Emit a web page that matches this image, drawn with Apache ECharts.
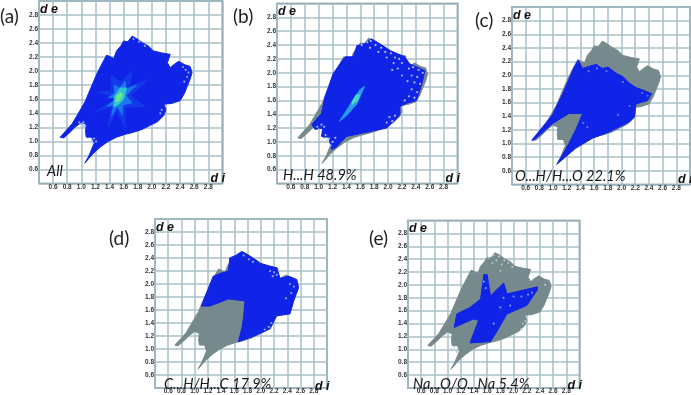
<!DOCTYPE html>
<html><head><meta charset="utf-8">
<style>html,body{margin:0;padding:0;background:#fff}#c{width:691px;height:395px;filter:blur(0.5px)}</style>
<script src="https://cdn.jsdelivr.net/npm/echarts@6/dist/echarts.min.js"></script>
</head><body><div id="c"></div>
<script>
const panelLetters = ['(a)','(b)','(c)','(d)','(e)'];
const captions = ['All','H...H 48.9%','O...H/H...O 22.1%','C...H/H...C 17.9%','Na...O/O...Na 5.4%'];
const fullOutline = [[1.05,0.69],[1.16,0.82],[1.27,0.92],[1.38,1.0],[1.5,1.06],[1.62,1.1],[1.74,1.13],[1.86,1.17],[1.98,1.23],[2.08,1.28],[2.17,1.37],[2.2,1.45],[2.17,1.53],[2.28,1.54],[2.4,1.58],[2.46,1.68],[2.5,1.78],[2.54,1.88],[2.57,1.98],[2.54,2.07],[2.47,2.09],[2.38,2.14],[2.32,2.1],[2.26,2.05],[2.22,2.12],[2.26,2.24],[2.14,2.26],[2.02,2.29],[1.95,2.36],[1.86,2.41],[1.79,2.46],[1.72,2.5],[1.66,2.42],[1.6,2.43],[1.56,2.36],[1.5,2.29],[1.46,2.18],[1.42,2.2],[1.36,2.23],[1.29,2.1],[1.22,1.96],[1.16,1.82],[1.1,1.68],[1.06,1.58],[1.01,1.49],[0.94,1.37],[0.87,1.25],[0.78,1.15],[0.7,1.06],[0.75,1.05],[0.84,1.13],[0.92,1.21],[1.0,1.27],[1.07,1.24],[1.06,1.14],[1.07,1.06],[1.15,1.06],[1.18,0.97],[1.11,0.8]];
const blueB = [[1.76,2.49],[1.66,2.42],[1.55,2.39],[1.5,2.23],[1.38,2.23],[1.21,1.99],[1.09,1.65],[1.04,1.41],[0.9,1.25],[0.95,1.18],[1.06,1.2],[1.04,1.08],[1.14,1.08],[1.19,0.89],[1.26,0.93],[1.4,1.08],[1.64,1.13],[1.98,1.2],[2.17,1.39],[2.17,1.51],[2.27,1.56],[2.41,1.6],[2.49,1.85],[2.53,2.03],[2.31,2.13],[2.24,2.23],[2.03,2.32],[1.88,2.42]];
const blueC = [[0.69,1.05],[0.99,1.42],[1.14,1.73],[1.31,2.12],[1.37,2.22],[1.43,2.1],[1.52,2.13],[1.63,2.16],[1.72,2.1],[1.8,2.12],[1.92,2.03],[2.02,1.98],[2.12,1.88],[2.21,1.82],[2.32,1.78],[2.44,1.73],[2.38,1.63],[2.21,1.58],[2.19,1.39],[2.12,1.32],[1.82,1.17],[1.58,1.08],[1.33,0.93],[1.06,0.7],[1.23,1.0],[1.34,1.22],[1.43,1.44],[1.23,1.44],[0.99,1.29],[0.72,1.05]];
const blueD = [[1.1,1.66],[1.28,2.12],[1.38,2.16],[1.51,2.2],[1.53,2.4],[1.62,2.44],[1.71,2.5],[1.82,2.44],[1.99,2.32],[2.12,2.28],[2.24,2.25],[2.29,2.09],[2.42,2.12],[2.54,2.07],[2.57,1.94],[2.5,1.75],[2.44,1.54],[2.24,1.51],[2.14,1.31],[1.9,1.2],[1.66,1.11],[1.72,1.35],[1.74,1.51],[1.76,1.74],[1.51,1.77],[1.23,1.66]];
const blueE = [[1.1,1.34],[1.14,1.55],[1.34,1.65],[1.5,1.78],[1.55,2.16],[1.6,2.16],[1.65,1.83],[1.85,2.03],[1.9,1.86],[2.36,1.97],[2.36,1.92],[2.2,1.68],[1.9,1.55],[1.75,1.28],[1.65,1.12],[1.34,1.1],[1.47,1.45],[1.39,1.47]];
const softA = [[1.53,1.63],[1.2,1.42],[1.43,1.5],[1.38,1.2],[1.5,1.44],[1.62,1.2],[1.62,1.48],[1.9,1.5],[1.7,1.65],[1.95,1.88],[1.68,1.78],[1.72,2.0],[1.56,1.84],[1.42,1.95],[1.43,1.72],[1.22,1.7]];
const hotOuterA = [[1.53,1.63],[1.36,1.5],[1.46,1.52],[1.43,1.36],[1.51,1.5],[1.58,1.38],[1.59,1.52],[1.72,1.55],[1.63,1.65],[1.78,1.8],[1.63,1.74],[1.62,1.86],[1.55,1.76],[1.47,1.8],[1.47,1.68],[1.38,1.62]];
const hotMidA = [[1.46,1.49],[1.52,1.52],[1.6,1.6],[1.64,1.76],[1.55,1.76],[1.47,1.64]];
const hotCoreA = [[1.49,1.56],[1.54,1.58],[1.59,1.66],[1.56,1.7],[1.5,1.65]];
const hotMidB = [[1.3,1.3],[1.4,1.38],[1.55,1.55],[1.66,1.8],[1.6,1.76],[1.46,1.55],[1.34,1.36]];
const hotCoreB = [[1.48,1.54],[1.56,1.6],[1.59,1.68],[1.54,1.68],[1.48,1.58]];
const speckA = [[2.48,2.02],[2.52,1.98],[2.44,2.06],[2.5,1.92],[2.46,1.85],[1.74,2.46],[1.82,2.42],[1.9,2.36],[1.0,1.24],[0.97,1.27],[1.03,1.27],[1.04,1.22],[1.15,1.02],[1.18,1.04],[1.21,1.0],[1.17,0.98],[2.12,1.4],[2.14,1.45]];
const speckB = [[1.62,2.4],[1.7,2.44],[1.75,2.46],[1.82,2.4],[1.9,2.36],[1.96,2.3],[2.04,2.28],[2.1,2.22],[2.16,2.2],[2.2,2.14],[1.74,2.36],[1.86,2.3],[1.98,2.22],[2.08,2.14],[2.14,2.06],[2.06,2.04],[2.2,1.96],[2.3,2.06],[2.36,2.08],[2.44,2.04],[2.5,2.0],[2.42,1.94],[2.34,1.96],[2.28,1.88],[2.38,1.86],[2.46,1.84],[2.34,1.76],[2.42,1.72],[2.3,1.66],[2.38,1.64],[2.24,1.6],[1.98,1.28],[2.06,1.3],[2.1,1.38],[2.02,1.36],[1.1,1.1],[1.15,1.05],[1.2,1.0],[1.12,1.02],[1.17,0.95],[1.24,1.06],[0.98,1.22],[1.04,1.25],[1.08,1.22],[1.0,1.18]];
const speckC = [[1.52,2.06],[1.64,2.1],[1.78,2.06],[2.02,1.9],[2.3,1.74],[2.38,1.7],[1.44,1.3],[1.5,1.24],[1.95,1.42],[2.12,1.55]];
const speckD = [[2.14,2.2],[2.2,2.18],[2.18,2.12],[2.24,2.14],[1.74,2.44],[1.82,2.38],[1.88,2.34],[2.44,2.0],[2.5,1.96],[2.46,1.86],[2.38,1.78],[2.16,1.4],[2.12,1.34],[2.06,1.3]];
const speckE = [[1.62,2.42],[1.7,2.46],[1.78,2.44],[1.86,2.38],[1.92,2.34],[1.98,2.28],[1.74,2.38],[1.82,2.32],[1.68,2.34],[1.06,1.0],[1.14,0.96],[1.1,1.04],[2.12,1.32],[2.18,1.44],[2.14,1.4],[1.8,2.22],[2.48,2.0]];
const speckE2 = [[1.55,2.05],[1.58,1.95],[1.85,1.8],[2.0,1.82],[2.12,1.82],[2.22,1.85],[2.28,1.88],[1.8,1.65],[1.95,1.68],[1.7,1.4]];
const panels = [
  {left:39, top:1, size:183.4, h:182.5},
  {left:277,top:3.5,size:180.5,h:180},
  {left:512,top:7, size:178,h:177.5},
  {left:155,top:219,size:172,h:172},
  {left:408,top:220.5,size:171.5,h:170}
];
const letterPos = [[0,7],[233,7],[475,11],[109,229],[369,229]];
const capPos = [[47,164],[283,168],[515,169],[164,377],[413,377]];
const blue='#0f24e6', gray='#76898c';
const layers = [
  [[fullOutline,blue],[softA,'#1438ea'],[hotOuterA,'#1b78f0'],[hotMidA,'#2ec4d4'],[hotCoreA,'#66e88e']],
  [[fullOutline,gray],[blueB,blue],[hotMidB,'#2a9cee'],[hotCoreB,'#45dcc0']],
  [[fullOutline,gray],[blueC,blue]],
  [[fullOutline,gray],[blueD,blue]],
  [[fullOutline,gray],[blueE,blue]]
];
const dots = [[[speckA,'#9fb0f2']],[[speckB,'#c4ccf5']],[[speckC,'#6f80ee']],[[speckD,'#a4aff0']],[[speckE,'#bcc8c8'],[speckE2,'#8f9cf0']]];
const grids=[],xAxes=[],yAxes=[],series=[],titles=[];
const labelFont={fontSize:6.5,fontWeight:'bold',color:'#333',fontFamily:'Liberation Sans',showMinLabel:false,showMaxLabel:false};
panels.forEach((p,i)=>{
  grids.push({left:p.left,top:p.top,width:p.size,height:p.h,show:true,borderColor:'#5c7a80',borderWidth:1.5,backgroundColor:'#fff'});
  const ax=(m)=>({type:'value',min:0.4,max:3.0,interval:0.2,gridIndex:i,
    axisLine:{show:false},axisTick:{show:false},
    axisLabel:Object.assign({},labelFont,{margin:m,formatter:v=>v.toFixed(1)}),
    splitLine:{show:true,lineStyle:{color:'#a9c1c9',width:1.5}}});
  xAxes.push(ax(0)); yAxes.push(ax(1));
  layers[i].forEach(([pts,col])=>{
    series.push({type:'custom',xAxisIndex:i,yAxisIndex:i,coordinateSystem:'cartesian2d',silent:true,clip:false,
      data:pts,encode:{x:0,y:1},
      renderItem:(params,api)=>{
        if(params.dataIndex!==0) return null;
        return {type:'polygon',shape:{points:pts.map(q=>api.coord(q))},style:{fill:col,stroke:col,lineWidth:1}};
      }});
  });
  dots[i].forEach(([pts,col])=>{
    series.push({type:'scatter',xAxisIndex:i,yAxisIndex:i,silent:true,data:pts,symbolSize:2.2,itemStyle:{color:col,opacity:0.9}});
  });
  titles.push({text:panelLetters[i],left:letterPos[i][0],top:letterPos[i][1],padding:0,textStyle:{fontSize:19,fontWeight:'normal',color:'#222',fontFamily:'Lato'}});
  titles.push({text:captions[i],left:capPos[i][0],top:capPos[i][1],padding:0,textStyle:{fontSize:14.5,fontWeight:'normal',fontStyle:'italic',color:'#1a1a1a',fontFamily:'Lato'}});
  titles.push({text:'d e',left:p.left+1,top:p.top+2,padding:0,textStyle:{fontSize:12.5,fontWeight:'bold',fontStyle:'italic',color:'#111',fontFamily:'Liberation Sans'}});
  titles.push({text:'d i',left:p.left+p.size-12,top:p.top+p.h-11,padding:0,textStyle:{fontSize:12.5,fontWeight:'bold',fontStyle:'italic',color:'#111',fontFamily:'Liberation Sans'}});
});
echarts.init(document.getElementById('c'),null,{width:691,height:395}).setOption({
  animation:false,backgroundColor:'#fff',title:titles,grid:grids,xAxis:xAxes,yAxis:yAxes,series:series});
</script></body></html>
